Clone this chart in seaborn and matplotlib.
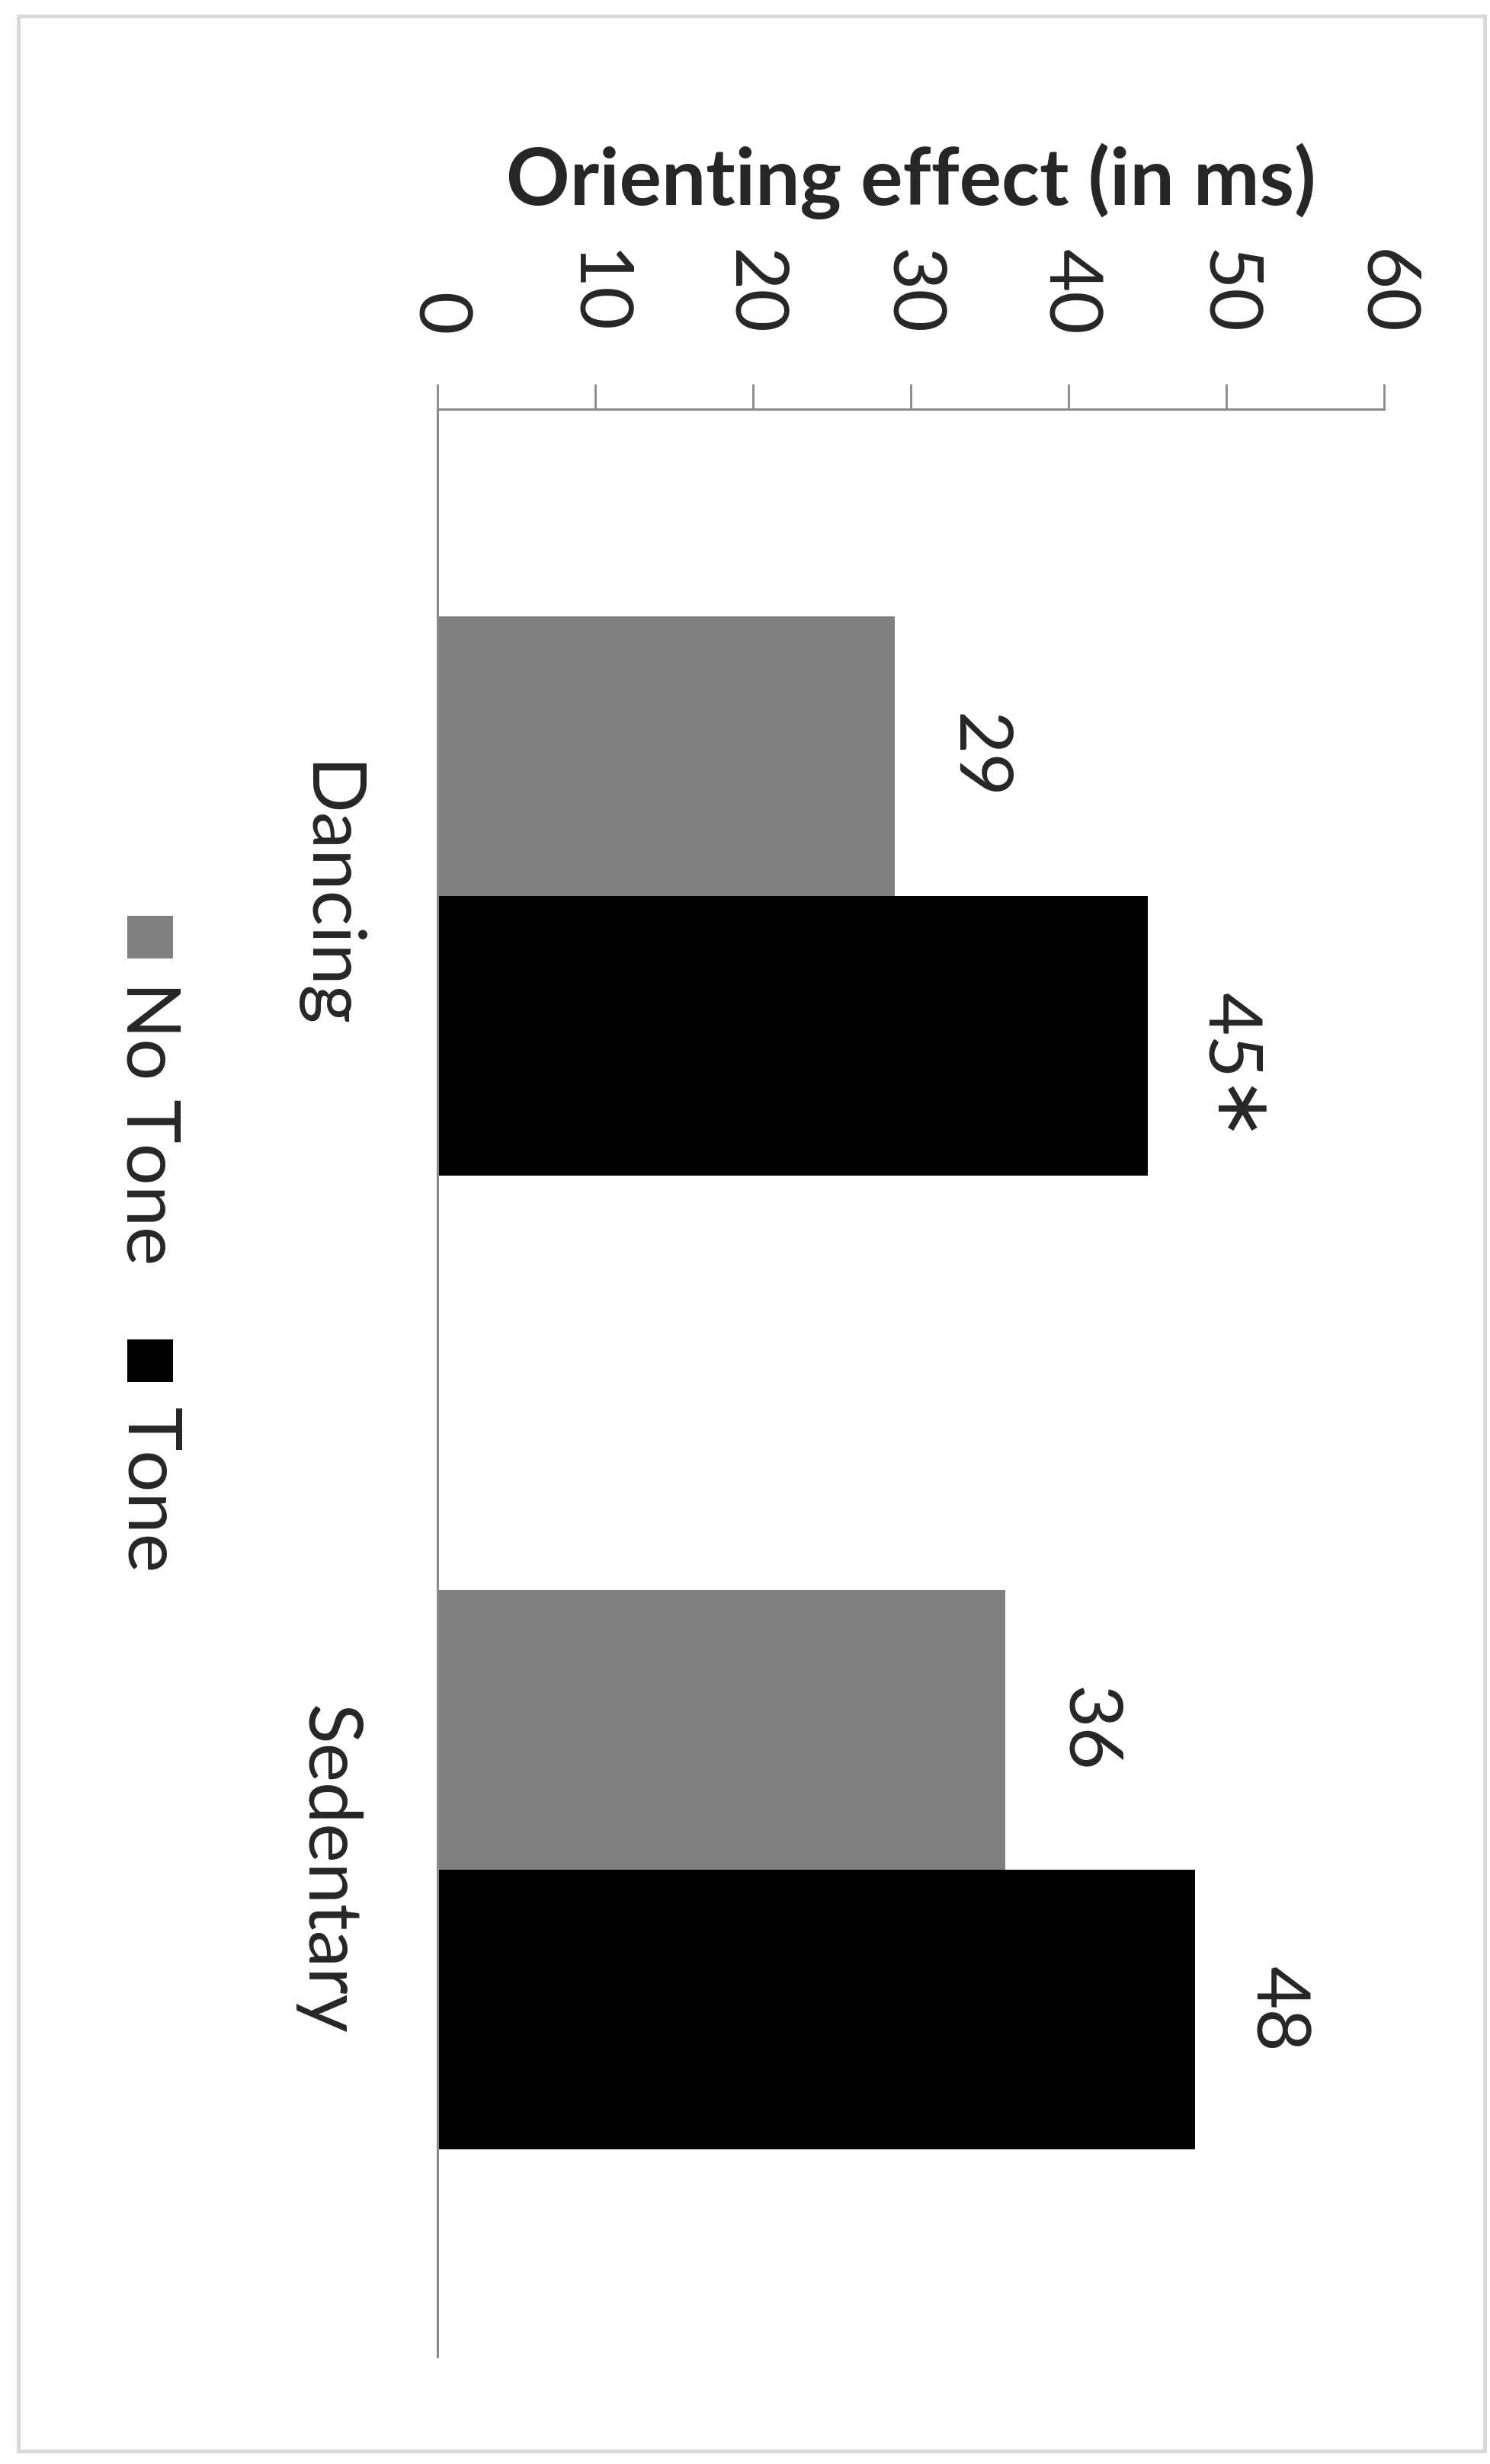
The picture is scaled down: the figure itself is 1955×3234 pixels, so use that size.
import pandas as pd
import seaborn as sns
import matplotlib.pyplot as plt
from matplotlib.patches import Rectangle

# data
groups = ["Dancing", "Sedentary"]
conditions = ["No Tone", "Tone"]
no_tone = [29, 36]
tone = [45, 48]
stars_no_tone = ["", ""]
stars_tone = ["\u2217", ""]
value_ticks = [0, 10, 20, 30, 40, 50, 60]

colores = ["#808080", "#000000"]
gris_eje = "#898989"
W, H = 1956, 3234

df = pd.DataFrame({
    "grupo": groups * 2,
    "condicion": [conditions[0]] * 2 + [conditions[1]] * 2,
    "valor": no_tone + tone,
})

sns.set_style("white")
plt.rcParams["font.family"] = ["Lato", "DejaVu Sans"]

fig = plt.figure(figsize=(W / 100, H / 100), dpi=100)
ax = fig.add_axes([574 / W, 1 - 3093 / H, (1816 - 574) / W, (3093 - 537) / H])

sns.barplot(data=df, x="valor", y="grupo", hue="condicion", orient="h",
            palette=colores, width=0.575, gap=0, linewidth=0,
            legend=False, ax=ax)

ax.set_xlim(0, 60)
ax.set_ylim(1.5, -0.5)

# eje de valores arriba
ax.xaxis.tick_top()
ax.xaxis.set_label_position("top")
ax.set_xticks(value_ticks)
ax.tick_params(axis="x", which="major", direction="out", length=23.8, width=2,
               color=gris_eje, pad=46, labelsize=70, labelrotation=270)
ax.set_xlabel("Orienting effect (in ms)", fontsize=74.5, fontweight="bold",
              labelpad=42)
ax.set_ylabel("")

# eje de categorias a la izquierda
ax.set_yticks([0, 1])
ax.set_yticklabels(groups, rotation=270, va="center", fontsize=70)
ax.set_yticks([-0.5, 0.5, 1.5], minor=True)
ax.tick_params(axis="y", which="major", length=0, pad=73)
ax.tick_params(axis="y", which="minor", direction="out", length=23.8, width=2,
               color=gris_eje)

for lado in ["top", "left"]:
    ax.spines[lado].set_color(gris_eje)
    ax.spines[lado].set_linewidth(2.2)
for lado in ["bottom", "right"]:
    ax.spines[lado].set_visible(False)

# etiquetas de las barras
for cont, estrellas in zip(ax.containers, [stars_no_tone, stars_tone]):
    for barra, est in zip(cont, estrellas):
        v = barra.get_width()
        yc = barra.get_y() + barra.get_height() / 2
        t = ax.annotate(f"{v:g}", xy=(v, yc), xytext=(57.6, 0),
                        textcoords="offset points", rotation=270,
                        rotation_mode="anchor", ha="center", va="baseline",
                        fontsize=70)
        if est:
            ax.annotate(est, xy=(v, 0), xycoords=("data", t), xytext=(57.6, -6),
                        textcoords="offset points", rotation=270,
                        rotation_mode="anchor", ha="left", va="baseline",
                        fontsize=72, family="DejaVu Sans")

# leyenda girada
leyenda = [(conditions[0], colores[0], 1202, 1288),
           (conditions[1], colores[1], 1758, 1847)]
for nombre, col, y_cuadro, y_texto in leyenda:
    fig.add_artist(Rectangle((167 / W, 1 - (y_cuadro + 56) / H), 60 / W, 56 / H,
                             transform=fig.transFigure, color=col, lw=0))
    fig.text(167 / W, 1 - y_texto / H, nombre, rotation=270,
             rotation_mode="anchor", ha="left", va="baseline", fontsize=70)

# marco exterior
fig.add_artist(Rectangle((24 / W, 17 / H), (1948 - 24) / W, (3215 - 19) / H,
                         transform=fig.transFigure, fill=False,
                         edgecolor="#d9d9d9", lw=3.6))

fig.savefig("out.png", dpi=100)
